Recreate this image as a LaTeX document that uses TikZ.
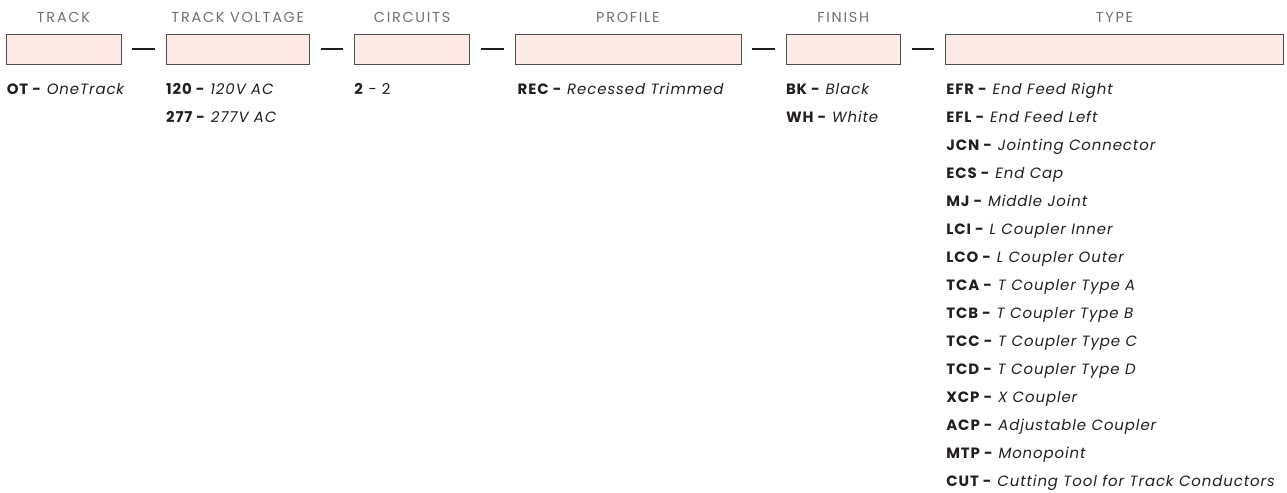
\documentclass[tikz,border=0pt]{standalone}
\usepackage{fontspec}
\setmainfont{Poppins}
\newfontfamily\headfont[LetterSpace=12]{Poppins}
\newfontfamily\itemfont[LetterSpace=6]{Poppins}
\usetikzlibrary{positioning,calc}
\definecolor{boxfill}{HTML}{FBEAE6}
\definecolor{boxline}{HTML}{4D4D4D}
\definecolor{titlegray}{HTML}{707070}
\definecolor{ink}{HTML}{231F20}

\begin{document}
\begin{tikzpicture}[x=1bp, y=-1bp, node distance=44.5bp,
    codebox/.style={rectangle, draw=boxline, fill=boxfill, line width=0.8bp, minimum height=30bp, inner sep=0pt},
    heading/.style={font=\headfont\fontsize{14.5}{16}\selectfont, text=titlegray, anchor=base, inner sep=0pt},
    item/.style={font=\itemfont\fontsize{15}{17}\selectfont, text=ink, anchor=base west, inner sep=0pt},
    sep/.style={line width=2.4bp, draw=ink, shorten <=11bp, shorten >=11bp}]

    \useasboundingbox (0,0) rectangle (1287,493);

    % code boxes
    \node[codebox, minimum width=115bp] (trk) at (63.5,49) {};
    \node[codebox, minimum width=143bp, right=of trk] (volt) {};
    \node[codebox, minimum width=115bp, right=of volt] (circ) {};
    \node[codebox, minimum width=226bp, right=of circ] (prof) {};
    \node[codebox, minimum width=114bp, right=of prof] (fin) {};
    \node[codebox, minimum width=338bp, right=of fin] (ty) {};

    \draw[sep] (trk) -- (volt);
    \draw[sep] (volt) -- (circ);
    \draw[sep] (circ) -- (prof);
    \draw[sep] (prof) -- (fin);
    \draw[sep] (fin) -- (ty);

    % headings
    \node[above=11bp of trk, heading] (trkT) {TRACK};
    \node[above=11bp of volt, heading] (voltT) {TRACK VOLTAGE};
    \node[above=11bp of circ, heading] (circT) {CIRCUITS};
    \node[above=11bp of prof, heading] (profT) {PROFILE};
    \node[above=11bp of fin, heading] (finT) {FINISH};
    \node[above=11bp of ty, heading] (tyT) {TYPE};

    % options
    \node[below right=30bp and 1bp of trk.south west, item] (ot) {\textbf{OT -} \textit{OneTrack}};
    \node[below right=30bp and 0bp of volt.south west, item] (v120) {\textbf{120 -} \textit{120V AC}};
    \node[below=28bp of v120.base west, item] (v277) {\textbf{277 -} \textit{277V AC}};
    \node[below right=30bp and 0bp of circ.south west, item] (c2) {\textbf{2} - 2};
    \node[below right=30bp and 3bp of prof.south west, item] (rec) {\textbf{REC -} \textit{Recessed Trimmed}};
    \node[below right=30bp and 0bp of fin.south west, item] (bk) {\textbf{BK -} \textit{Black}};
    \node[below=28bp of bk.base west, item] (wh) {\textbf{WH -} \textit{White}};

    \foreach \c/\d [count=\i, evaluate=\i as \dy using 30+28*(\i-1)] in {
        EFR/End Feed Right, EFL/End Feed Left, JCN/Jointing Connector,
        ECS/End Cap, MJ/Middle Joint, LCI/L Coupler Inner, LCO/L Coupler Outer,
        TCA/T Coupler Type A, TCB/T Coupler Type B, TCC/T Coupler Type C,
        TCD/T Coupler Type D, XCP/X Coupler, ACP/Adjustable Coupler,
        MTP/Monopoint, CUT/Cutting Tool for Track Conductors}
        \node[below right=\dy bp and 1bp of ty.south west, item] (ty\i) {\textbf{\c\ -} \textit{\d}};

\end{tikzpicture}
\end{document}
